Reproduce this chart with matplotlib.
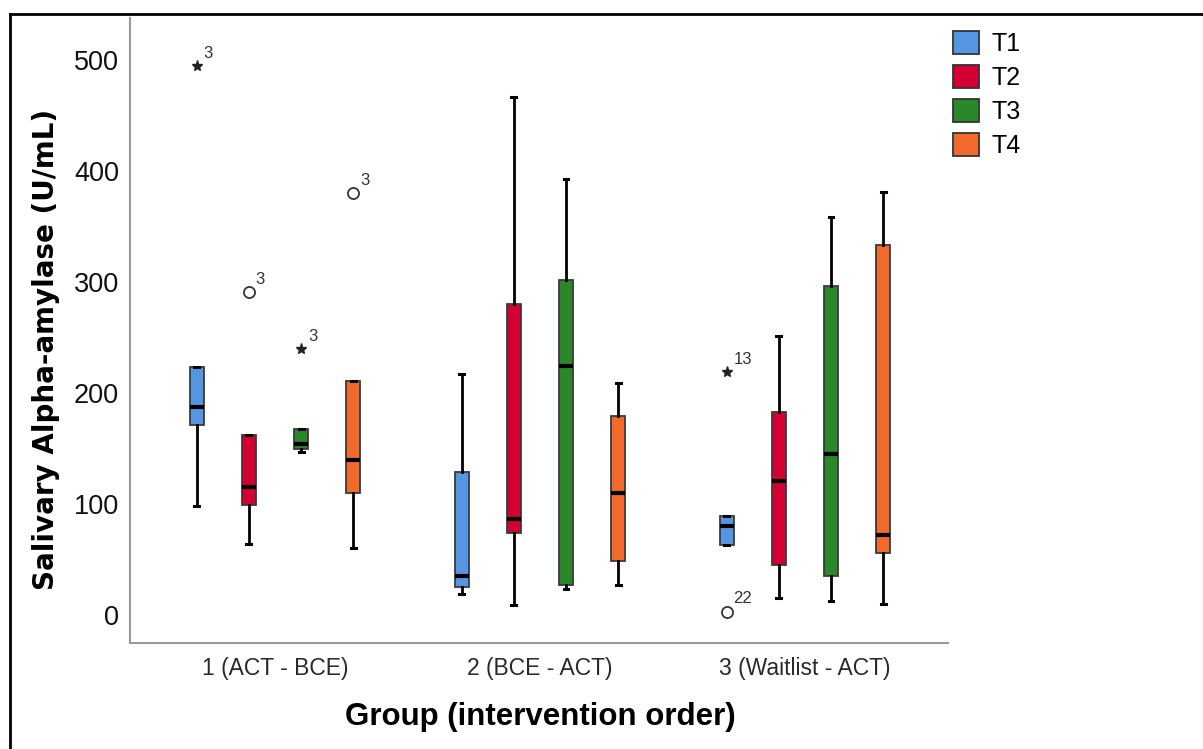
import matplotlib
matplotlib.use("Agg")
import matplotlib.pyplot as plt
from matplotlib.patches import Patch
from matplotlib.lines import Line2D
import numpy as np

plt.rcParams["font.family"] = ["Liberation Sans", "DejaVu Sans"]

# ---- data -------------------------------------------------------------
groups = ["1 (ACT - BCE)", "2 (BCE - ACT)", "3 (Waitlist - ACT)"]
series = ["T1", "T2", "T3", "T4"]

# five-number summaries per series, one value per group
t1_low = [98, 19, 63]
t1_q1 = [171, 25.5, 63]
t1_med = [187, 35, 80]
t1_q3 = [223, 129, 89.5]
t1_high = [223, 217, 89.5]

t2_low = [64, 9, 15]
t2_q1 = [99, 73.5, 45.5]
t2_med = [115.5, 86.5, 121]
t2_q3 = [162, 280, 182.5]
t2_high = [162, 466.5, 251.5]

t3_low = [146.5, 23, 12.5]
t3_q1 = [149.5, 27, 35]
t3_med = [154, 224, 145]
t3_q3 = [167.5, 302, 296]
t3_high = [167.5, 393, 358.5]

t4_low = [60, 27, 10]
t4_q1 = [110, 49, 56]
t4_med = [140, 109.5, 72]
t4_q3 = [211, 179, 333]
t4_high = [211, 209, 381]

# outliers: (group index, series index, value, case label)
extreme_points = [(0, 0, 494.5, "3"), (0, 2, 239.5, "3"), (2, 0, 219, "13")]
outlier_points = [(0, 1, 291, "3"), (0, 3, 380, "3"), (2, 0, 3, "22")]

colors = ["#5596E2", "#D50032", "#2A882A", "#F26A2B"]

summaries = [
    (t1_low, t1_q1, t1_med, t1_q3, t1_high),
    (t2_low, t2_q1, t2_med, t2_q3, t2_high),
    (t3_low, t3_q1, t3_med, t3_q3, t3_high),
    (t4_low, t4_q1, t4_med, t4_q3, t4_high),
]

# ---- figure -----------------------------------------------------------
fig = plt.figure(figsize=(12.03, 7.49), dpi=100)
ax = fig.add_axes([130 / 1203, 1 - 643 / 749, 818 / 1203, 625 / 749])

offsets = np.array([-1.5, -0.5, 0.5, 1.5]) * 0.197
box_w = 0.053
centers = np.arange(len(groups))

def xpos(g, s):
    return centers[g] + offsets[s]

for s, (lo, q1, med, q3, hi) in enumerate(summaries):
    stats = [dict(whislo=lo[g], q1=q1[g], med=med[g], q3=q3[g], whishi=hi[g], fliers=[])
             for g in range(len(groups))]
    ax.bxp(stats, positions=[xpos(g, s) for g in range(len(groups))], widths=box_w,
           patch_artist=True, showfliers=False, showcaps=True,
           boxprops=dict(facecolor=colors[s], edgecolor="#3a3a3a", linewidth=1.3),
           medianprops=dict(color="black", linewidth=3, solid_capstyle="butt"),
           whiskerprops=dict(color="black", linewidth=2),
           capprops=dict(color="black", linewidth=2.2),
           capwidths=box_w * 0.35)

label_style = dict(xytext=(5, 6), textcoords="offset points", fontsize=12, color="#333333")

for g, s, v, lab in extreme_points:
    ax.plot(xpos(g, s), v, marker="*", markersize=8, color="#222222", linestyle="none", zorder=5)
    ax.annotate(lab, (xpos(g, s), v), **label_style)

for g, s, v, lab in outlier_points:
    ax.plot(xpos(g, s), v, marker="o", markersize=8, markerfacecolor="white",
            markeredgecolor="#333333", markeredgewidth=1.3, linestyle="none", zorder=5)
    ax.annotate(lab, (xpos(g, s), v), **label_style)

ax.set_xlim(-0.547, 2.54)
ax.set_ylim(-25.2, 537.8)
ax.set_xticks(centers)
ax.set_xticklabels(groups, fontsize=16.5, color="#2a2a2a")
ax.set_yticks([0, 100, 200, 300, 400, 500])
ax.tick_params(axis="both", length=0)
ax.tick_params(axis="y", labelsize=19.5, pad=8, labelcolor="#111111")
ax.tick_params(axis="x", pad=10)

for side in ["top", "right"]:
    ax.spines[side].set_visible(False)
for side in ["left", "bottom"]:
    ax.spines[side].set_color("#999999")
    ax.spines[side].set_linewidth(1.5)

ax.set_xlabel("Group (intervention order)", fontsize=22.5, fontweight="bold")
ax.xaxis.set_label_coords(0.501, -0.095)
ax.set_ylabel("Salivary Alpha-amylase (U/mL)", fontsize=20, fontweight="bold",
              family=["DejaVu Sans"])
ax.yaxis.set_label_coords(-0.0856, 0.469)

handles = [Patch(facecolor=c, edgecolor="#333333", linewidth=1.3) for c in colors]
fig.legend(handles, series, loc="upper left", bbox_to_anchor=(930 / 1203, 1 - 8 / 749),
           frameon=False, fontsize=18, handlelength=1.04, handleheight=1.04,
           labelspacing=0.36, handletextpad=0.5)

# outer frame
fig.add_artist(Line2D([10 / 1203, 1.0], [1 - 14 / 749, 1 - 14 / 749],
                      transform=fig.transFigure, color="black", linewidth=2))
fig.add_artist(Line2D([10 / 1203, 10 / 1203], [0.0, 1 - 14 / 749],
                      transform=fig.transFigure, color="black", linewidth=2))

fig.savefig("out.png", dpi=100)
